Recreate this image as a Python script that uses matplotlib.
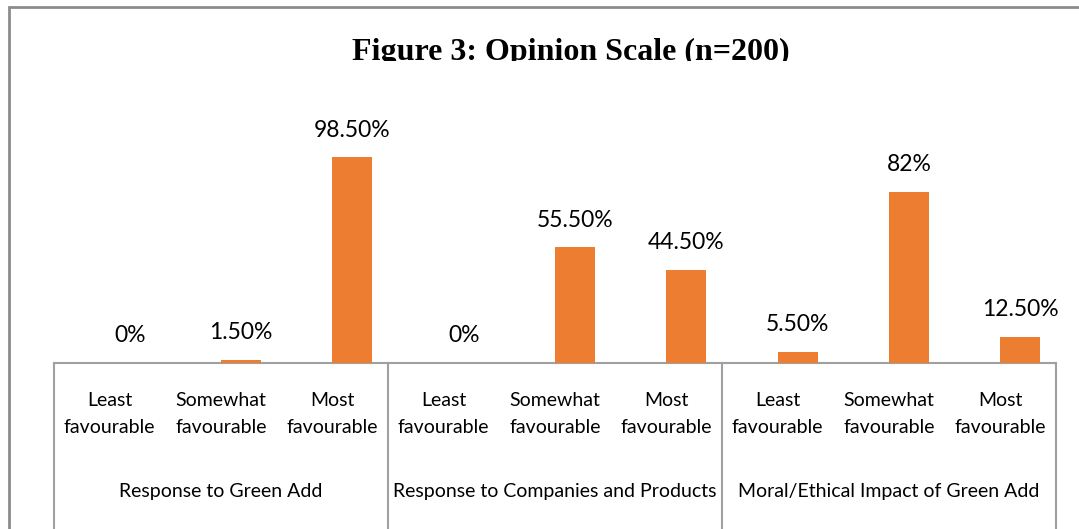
import matplotlib
matplotlib.use("Agg")
import matplotlib.pyplot as plt
from matplotlib.patches import Rectangle
from matplotlib.transforms import blended_transform_factory, Bbox

groups = ["Response to Green Add", "Response to Companies and Products", "Moral/Ethical Impact of Green Add"]
levels = ["Least\nfavourable", "Somewhat\nfavourable", "Most\nfavourable"]
values = [0, 1.5, 98.5, 0, 55.5, 44.5, 5.5, 82, 12.5]
value_labels = ["0%", "1.50%", "98.50%", "0%", "55.50%", "44.50%", "5.50%", "82%", "12.50%"]

W, H = 1079, 529
fig = plt.figure(figsize=(W / 100, H / 100), dpi=100)
fig.patch.set_facecolor("white")

# axes geometry in pixels
x0, x1 = 54, 1056
ybase, ytop = 363, 112.2
ax = fig.add_axes([x0 / W, (H - ybase) / H, (x1 - x0) / W, (ybase - ytop) / H])
ax.set_xlim(0, 9)
ax.set_ylim(0, 120)
for s in ["top", "right", "left"]:
    ax.spines[s].set_visible(False)
ax.spines["bottom"].set_color("#a0a0a0")
ax.spines["bottom"].set_linewidth(1.5)
ax.set_xticks([])
ax.set_yticks([])

font = "Lato"
bar_color = "#ED7D31"
n = len(values)
xs = [i + 0.5 + 0.18 for i in range(n)]
ax.bar(xs, values, width=0.36, color=bar_color, zorder=3)
for x, v, lab in zip(xs, values, value_labels):
    ax.annotate(lab, (x, v), xytext=(0, 27), textcoords="offset pixels",
                ha="center", va="center", fontsize=16.5, family=font, color="#000000")

def ay(py):
    return (ybase - py) / (ybase - ytop)

tr = blended_transform_factory(ax.transData, ax.transAxes)
for i in range(n):
    ax.text(i + 0.5, ay(414), levels[i % 3], transform=tr, ha="center", va="center",
            fontsize=14, family=font, linespacing=1.68)
for g, name in enumerate(groups):
    ax.text(g * 3 + 1.5, ay(491), name, transform=tr, ha="center", va="center",
            fontsize=14, family=font)
for b in [0, 3, 6, 9]:
    ax.plot([b, b], [0, ay(540)], transform=tr, color="#a0a0a0", lw=1.5, clip_on=False)

title = fig.text(571 / W, (H - 60) / H, "Figure 3: Opinion Scale (n=200)", ha="center", va="baseline",
                 fontsize=23, fontweight="bold", family="Liberation Serif")
title.set_clip_box(Bbox.from_extents(0, H - 61, W, H))
title.set_clip_on(True)

fig.add_artist(Rectangle((9 / W, -0.1), 1.2, (H - 7) / H + 0.1, transform=fig.transFigure,
                         fill=False, edgecolor="#8c8c8c", lw=2))

fig.savefig("out.png", dpi=100)
